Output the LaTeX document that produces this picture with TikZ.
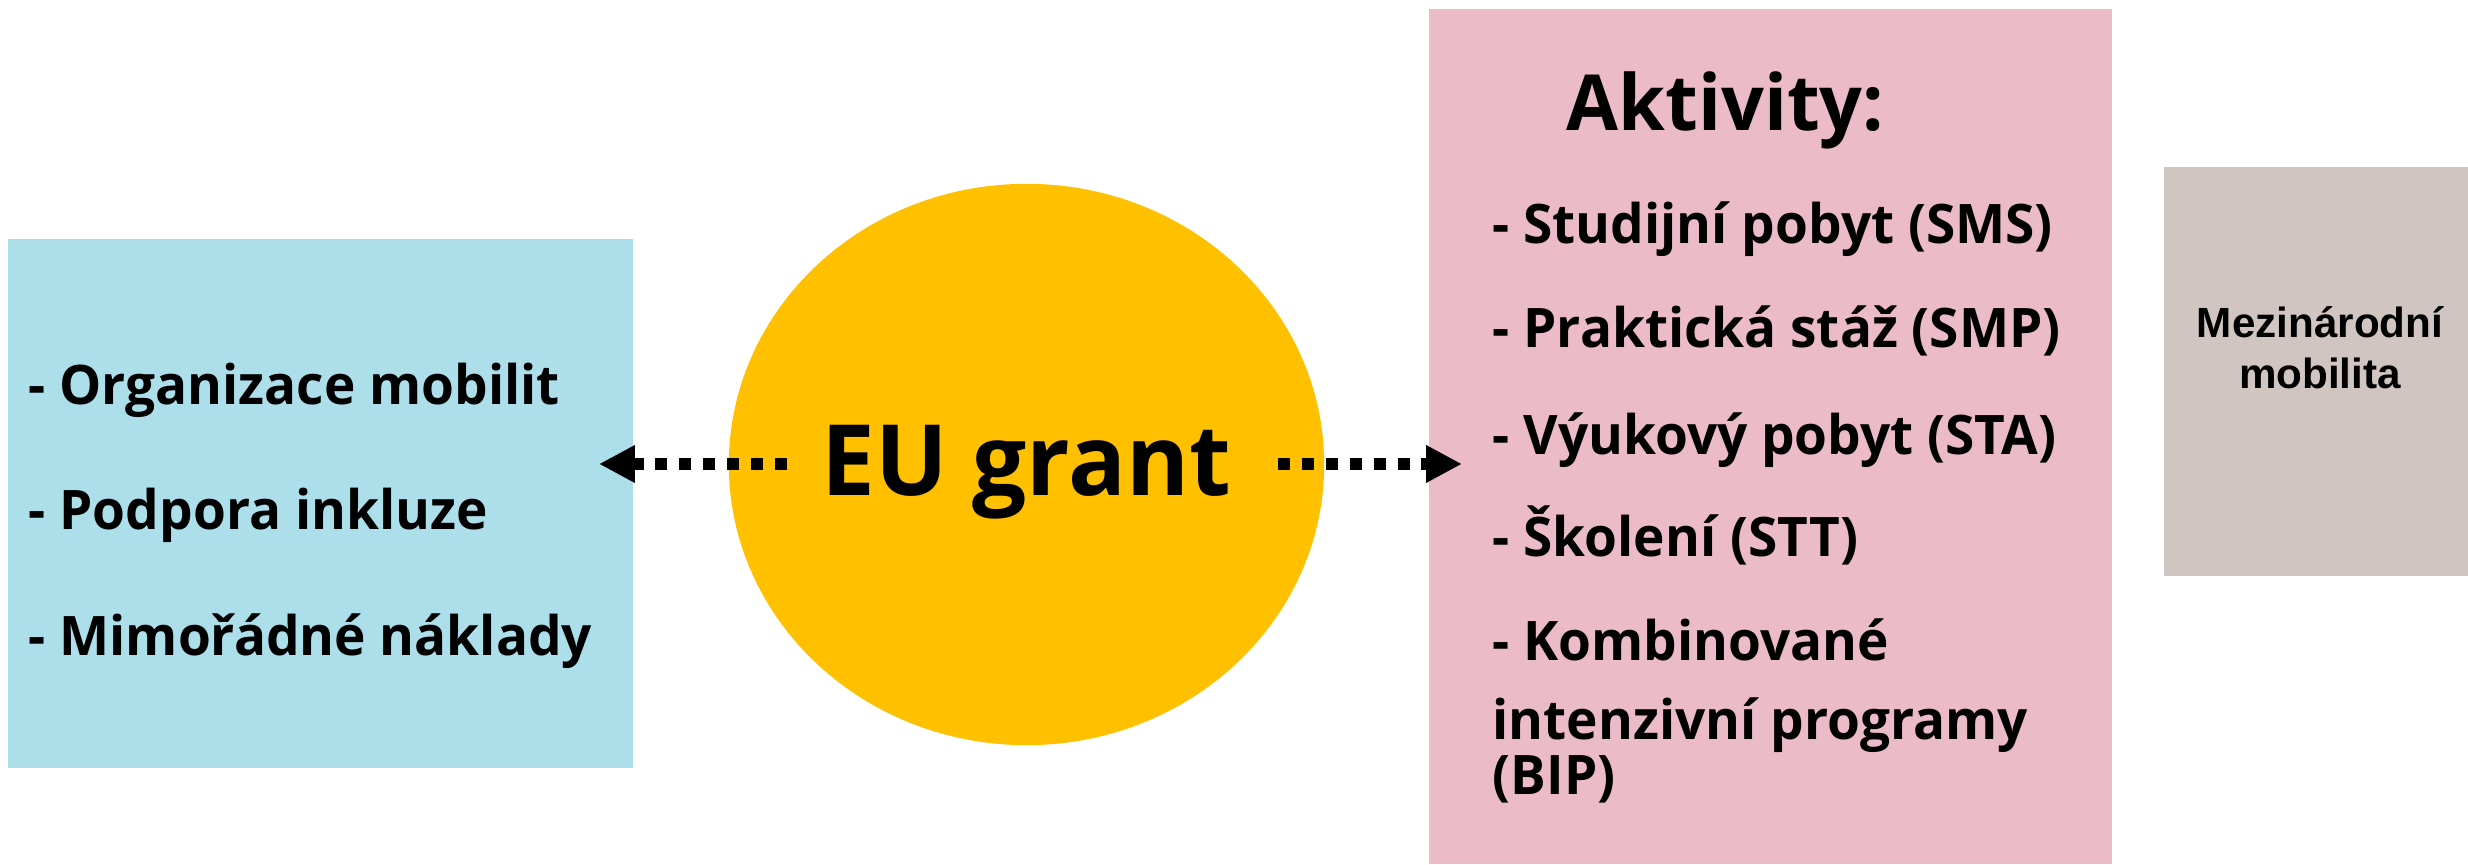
\documentclass[tikz,border=0pt]{standalone}
\usepackage{fontspec}
\usetikzlibrary{arrows.meta,shapes.geometric}
\newfontfamily\osfont{Open Sans}[FakeStretch=0.975]
\newfontfamily\arfont{Liberation Sans}
\definecolor{boxblue}{RGB}{173,223,235}
\definecolor{circyellow}{RGB}{255,192,0}
\definecolor{boxpink}{RGB}{236,187,200}
\definecolor{boxgray}{RGB}{208,197,193}
\begin{document}
\begin{tikzpicture}[x=0.01cm,y=-0.01cm,
  panel/.style={draw=none, inner sep=0, rectangle},
  item/.style={anchor=base west, inner sep=0, font=\osfont\bfseries\fontsize{15.5}{18}\selectfont},
  title/.style={anchor=base west, inner sep=0, font=\osfont\bfseries\fontsize{22}{26}\selectfont},
  small/.style={anchor=base, inner sep=0, font=\arfont\bfseries\fontsize{12}{14}\selectfont},
  link/.style={line width=3.4pt, dash pattern=on 3.5pt off 3.3pt, -{Triangle[length=10.2pt,width=10pt]}}
]
\useasboundingbox (0,0) rectangle (2468,865);
% panels
\node[panel, fill=boxblue, minimum width=6.25cm, minimum height=5.29cm] (left) at (320.5,503.5) {};
\node[panel, fill=boxpink, minimum width=6.83cm, minimum height=8.55cm] (acts) at (1770.5,436.5) {};
\node[panel, fill=boxgray, minimum width=3.04cm, minimum height=4.09cm] (mob) at (2316,371.5) {};
\node[ellipse, fill=circyellow, inner sep=0, minimum width=5.95cm, minimum height=5.61cm] (grant) at (1026.5,464.5) {};
% centre text
\node[anchor=base, inner sep=0, font=\osfont\bfseries\fontsize{28}{32}\selectfont] (grantlbl) at (1026.5,496) {EU grant};
% left items
\node[item] (l1) at (28,405) {- Organizace mobilit};
\node[item] (l2) at (28,530) {- Podpora inkluze};
\node[item] (l3) at (28,656) {- Mimořádné náklady};
% activities
\node[title] (t) at (1566,131) {Aktivity:};
\node[item] (a1) at (1492,244) {- Studijní pobyt (SMS)};
\node[item] (a2) at (1492,348) {- Praktická stáž (SMP)};
\node[item] (a3) at (1492,455) {- Výukový pobyt (STA)};
\node[item] (a4) at (1492,557) {- Školení (STT)};
\node[item] (a5) at (1492,661) {- Kombinované};
\node[item] (a6) at (1492,740) {intenzivní programy};
\node[item] (a7) at (1492,795) {(BIP)};
% gray
\node[small] (m1) at (2320,338) {Mezinárodní};
\node[small] (m2) at (2320,389) {mobilita};
% connectors
\coordinate (ls) at (787,464);
\coordinate (le) at (599,464);
\coordinate (rs) at (1278,464);
\coordinate (re) at (1462,464);
\draw[link] (ls) -- (le);
\draw[link] (rs) -- (re);
\end{tikzpicture}
\end{document}
